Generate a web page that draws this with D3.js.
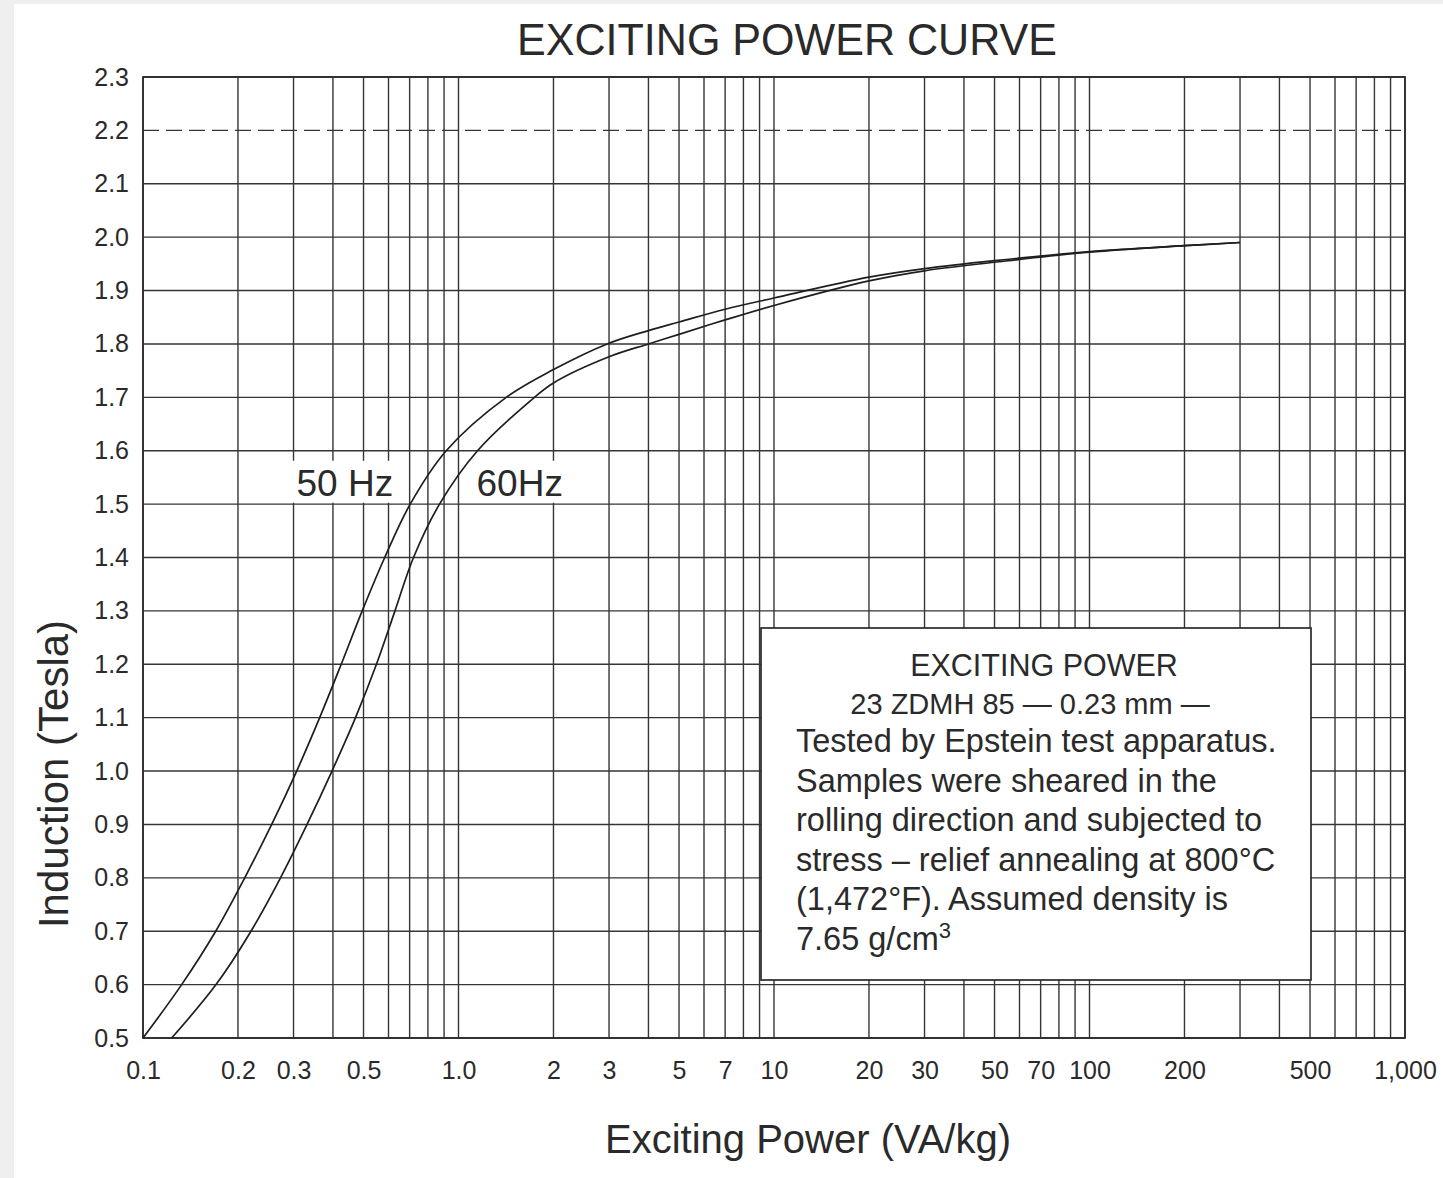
<!DOCTYPE html>
<html>
<head>
<meta charset="utf-8">
<script src="https://cdn.jsdelivr.net/npm/d3@7/dist/d3.min.js"></script>
<style>
  html, body { margin: 0; padding: 0; background: #fff; }
  svg { display: block; }
  text { font-family: "Liberation Sans", Arial, Helvetica, sans-serif; fill: #2a2a2a; }
</style>
</head>
<body>
<svg id="chart" width="1443" height="1178"></svg>
<script>
// ---- data ----
const power50 = [0.1, 0.1326, 0.1700, 0.2101, 0.2558, 0.3070, 0.3631, 0.4249, 0.4952, 0.5837, 0.7030, 0.9142, 1.4166, 2.0, 2.96, 4, 5, 7, 10, 20, 30, 50, 100, 200, 300];
const induction50 = [0.5, 0.6, 0.7, 0.8, 0.9, 1.0, 1.1, 1.2, 1.3, 1.4, 1.5, 1.6, 1.7, 1.752, 1.8, 1.825, 1.841, 1.865, 1.886, 1.925, 1.941, 1.956, 1.973, 1.984, 1.99];
const power60 = [0.1233, 0.1704, 0.2199, 0.2728, 0.3311, 0.3972, 0.4716, 0.5495, 0.6290, 0.7201, 0.8706, 1.1488, 1.7413, 2, 3, 4, 5, 7, 10, 20, 30, 50, 100, 200, 300];
const induction60 = [0.5, 0.6, 0.7, 0.8, 0.9, 1.0, 1.1, 1.2, 1.3, 1.4, 1.5, 1.6, 1.7, 1.727, 1.776, 1.80, 1.818, 1.845, 1.872, 1.918, 1.937, 1.953, 1.972, 1.984, 1.99];

const xTickValues = [0.1, 0.2, 0.3, 0.5, 1, 2, 3, 5, 7, 10, 20, 30, 50, 70, 100, 200, 500, 1000];
const xTickLabels = ["0.1", "0.2", "0.3", "0.5", "1.0", "2", "3", "5", "7", "10", "20", "30", "50", "70", "100", "200", "500", "1,000"];
const yTickValues = [0.5, 0.6, 0.7, 0.8, 0.9, 1.0, 1.1, 1.2, 1.3, 1.4, 1.5, 1.6, 1.7, 1.8, 1.9, 2.0, 2.1, 2.2, 2.3];
const yTickLabels = ["0.5", "0.6", "0.7", "0.8", "0.9", "1.0", "1.1", "1.2", "1.3", "1.4", "1.5", "1.6", "1.7", "1.8", "1.9", "2.0", "2.1", "2.2", "2.3"];

const titleText = "EXCITING POWER CURVE";
const xTitle = "Exciting Power (VA/kg)";
const yTitle = "Induction (Tesla)";
const seriesLabels = ["50 Hz", "60Hz"];
const noteCentered = ["EXCITING POWER", "23 ZDMH 85 \u2014 0.23 mm \u2014"];
const noteLeft = ["Tested by Epstein test apparatus.", "Samples were sheared in the", "rolling direction and subjected to", "stress \u2013 relief annealing at 800\u00b0C", "(1,472\u00b0F). Assumed density is"];

// ---- layout ----
const svg = d3.select("#chart");
const x = d3.scaleLog().domain([0.1, 1000]).range([143, 1405]);
const y = d3.scaleLinear().domain([0.5, 2.3]).range([1038, 77]);
const FONT = '"Liberation Sans", Arial, sans-serif';

// scan-like margins
svg.append("rect").attr("x", 0).attr("y", 0).attr("width", 14).attr("height", 1178).attr("fill", "#efefef");
svg.append("rect").attr("x", 0).attr("y", 0).attr("width", 1443).attr("height", 4).attr("fill", "#efefef");

// grid: vertical lines at 1..9 per decade
const vGrid = [];
[0.1, 1, 10, 100].forEach(d => { for (let k = 1; k <= 9; k++) vGrid.push(+(d * k).toPrecision(3)); });
vGrid.push(1000);

const gridColor = "#353535";
svg.append("g").selectAll("line").data(vGrid).join("line")
  .attr("x1", d => x(d)).attr("x2", d => x(d))
  .attr("y1", y(2.3)).attr("y2", y(0.5))
  .attr("stroke", gridColor).attr("stroke-width", 1.4);

svg.append("g").selectAll("line").data(yTickValues).join("line")
  .attr("x1", x(0.1)).attr("x2", x(1000))
  .attr("y1", d => y(d)).attr("y2", d => y(d))
  .attr("stroke", gridColor).attr("stroke-width", 1.4)
  .attr("stroke-dasharray", d => Math.abs(d - 2.2) < 1e-6 ? "16,7" : null);

// frame
svg.append("rect").attr("x", x(0.1)).attr("y", y(2.3))
  .attr("width", x(1000) - x(0.1)).attr("height", y(0.5) - y(2.3))
  .attr("fill", "none").attr("stroke", "#2a2a2a").attr("stroke-width", 1.7);

// axes (tick labels only)
const xAxis = d3.axisBottom(x).tickValues(xTickValues)
  .tickFormat((d, i) => xTickLabels[i]).tickSize(0).tickPadding(23);
const gx = svg.append("g").attr("transform", `translate(0,${y(0.5)})`).call(xAxis);
gx.select(".domain").remove();
gx.selectAll("text").style("font-size", "25px").style("font-family", FONT).attr("fill", "#2a2a2a");

const yAxis = d3.axisLeft(y).tickValues(yTickValues)
  .tickFormat((d, i) => yTickLabels[i]).tickSize(0).tickPadding(14);
const gy = svg.append("g").attr("transform", `translate(${x(0.1)},0)`).call(yAxis);
gy.select(".domain").remove();
gy.selectAll("text").style("font-size", "25px").style("font-family", FONT).attr("fill", "#2a2a2a");

// series labels with white backing (grid is interrupted behind them)
const lbl = svg.append("g");
lbl.append("rect").attr("x", x(0.3) - 4).attr("y", y(1.6) + 10).attr("width", 110).attr("height", 42).attr("fill", "#fff");
lbl.append("rect").attr("x", x(1.0) + 14).attr("y", y(1.6) + 10).attr("width", 98).attr("height", 42).attr("fill", "#fff");
lbl.append("text").attr("x", x(0.3) + 3).attr("y", y(1.5) - 8).style("font-size", "37px").text(seriesLabels[0]);
lbl.append("text").attr("x", x(1.0) + 18).attr("y", y(1.5) - 8).style("font-size", "37px").text(seriesLabels[1]);

// curves
const line = d3.line().x(d => x(d[0])).y(d => y(d[1])).curve(d3.curveCatmullRom.alpha(0.5));
const s50 = power50.map((p, i) => [p, induction50[i]]);
const s60 = power60.map((p, i) => [p, induction60[i]]);
[s50, s60].forEach(s => {
  svg.append("path").datum(s).attr("d", line)
    .attr("fill", "none").attr("stroke", "#1e1e1e").attr("stroke-width", 1.7);
});

// note box
const bx = 761, by = 628, bw = 550, bh = 352;
svg.append("rect").attr("x", bx).attr("y", by).attr("width", bw).attr("height", bh)
  .attr("fill", "#fff").attr("stroke", "#2a2a2a").attr("stroke-width", 1.7);
const noteG = svg.append("g");
noteG.append("text").attr("x", 1044).attr("y", 676).attr("text-anchor", "middle").style("font-size", "30.5px").text(noteCentered[0]);
noteG.append("text").attr("x", 1030).attr("y", 714).attr("text-anchor", "middle").style("font-size", "29px").text(noteCentered[1]);
noteLeft.forEach((t, i) => {
  noteG.append("text").attr("x", 796).attr("y", 752 + i * 39.5).style("font-size", "32.5px").text(t);
});
const last = noteG.append("text").attr("x", 796).attr("y", 752 + 5 * 39.5).style("font-size", "32.5px");
last.append("tspan").text("7.65 g/cm");
last.append("tspan").attr("dy", -12).style("font-size", "22px").text("3");

// titles
svg.append("text").attr("x", 787).attr("y", 55).attr("text-anchor", "middle")
  .style("font-size", "45px").attr("textLength", 540).attr("lengthAdjust", "spacingAndGlyphs").text(titleText);
svg.append("text").attr("x", 808).attr("y", 1153).attr("text-anchor", "middle")
  .style("font-size", "40px").text(xTitle);
svg.append("text").attr("transform", "translate(68,774) rotate(-90)").attr("text-anchor", "middle")
  .style("font-size", "42px").text(yTitle);
</script>
</body>
</html>
